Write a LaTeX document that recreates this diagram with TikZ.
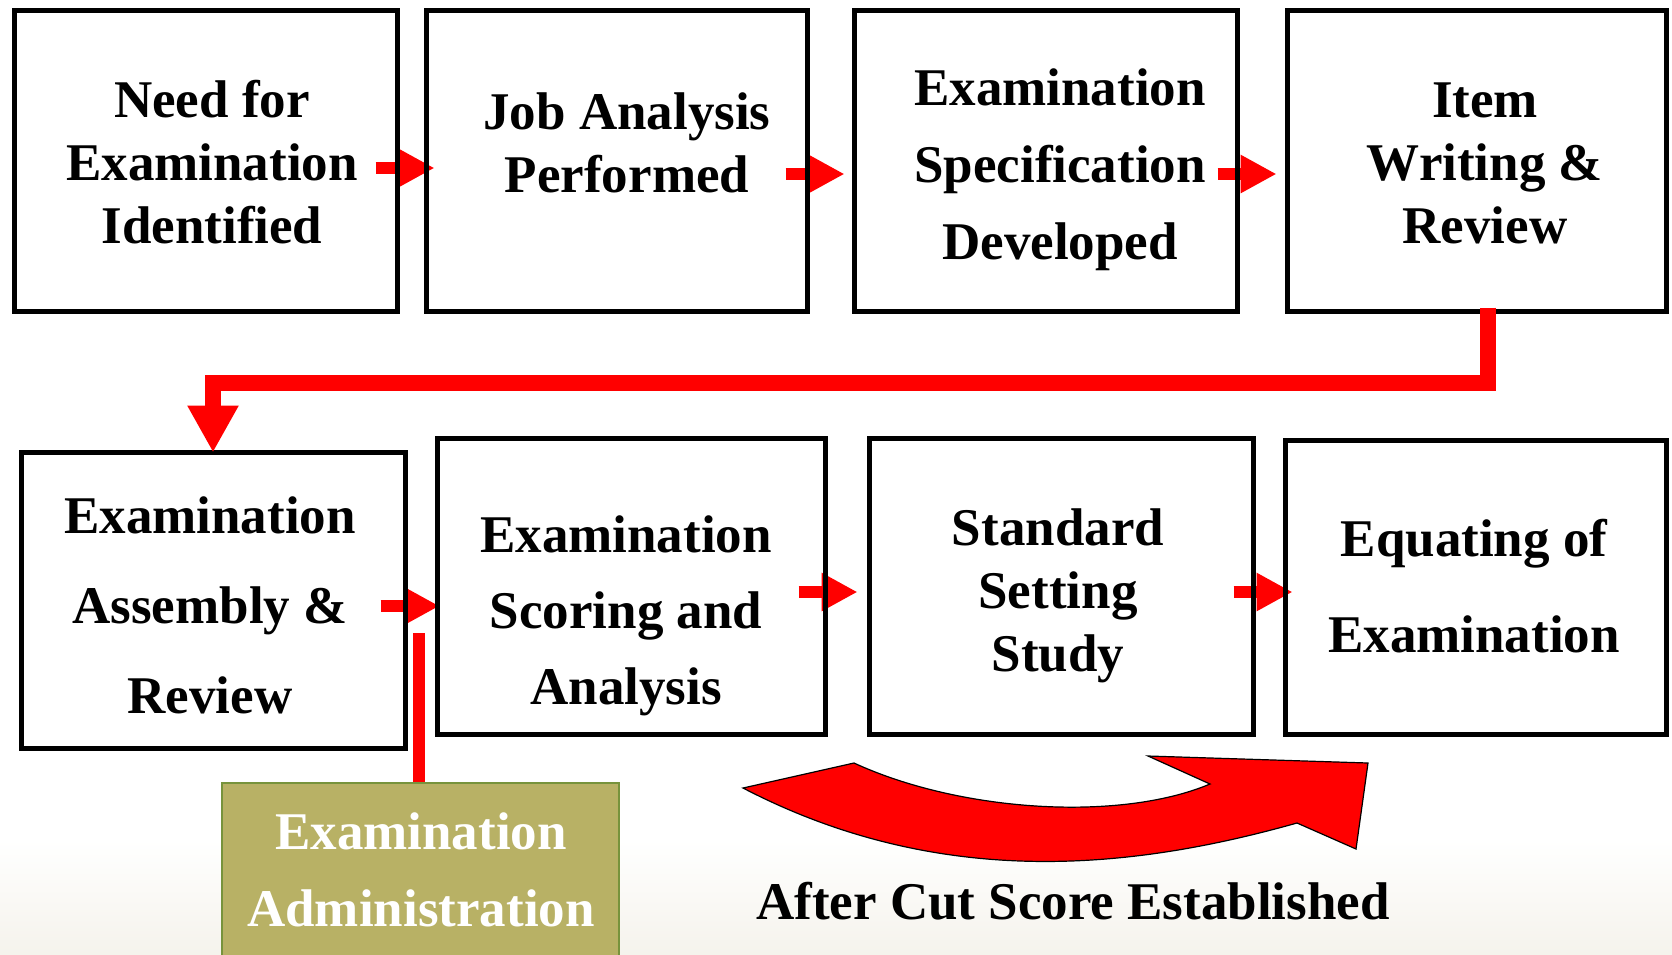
\documentclass[tikz,border=0pt]{standalone}
\usepackage{fontspec}
\setmainfont{Liberation Serif}
\usepackage{tikz}
\usetikzlibrary{arrows.meta, backgrounds}
\definecolor{admfill}{RGB}{184,177,101}
\definecolor{admdraw}{RGB}{119,147,60}
\definecolor{bgbottom}{RGB}{245,243,236}
\tikzset{>={Triangle[length=36pt,width=36pt]}}
\tikzset{
  stepbox/.style={draw, line width=5pt, inner sep=0pt},
  steptext/.style={align=center, inner sep=0pt, font=\fontsize{53}{63}\selectfont\bfseries},
  redarrow/.style={->, red, line width=12pt},
  bigflow/.style={-{Triangle[length=47pt,width=48pt]}, red, line width=16pt},
}

\begin{document}
\begin{tikzpicture}[x=1pt, y=-1pt]
        \useasboundingbox (0,0) rectangle (1672,954);
        \clip (0,0) rectangle (1672,954);
        \shade[top color=white, bottom color=bgbottom] (0,840) rectangle (1672,954);

        \node[stepbox, minimum width=383pt, minimum height=301pt] (b1) at (205.5,160.5) {};
        \node[stepbox, minimum width=381pt, minimum height=301pt] (b2) at (616.5,160.5) {};
        \node[stepbox, minimum width=383pt, minimum height=301pt] (b3) at (1045.5,160.5) {};
        \node[stepbox, minimum width=379pt, minimum height=301pt] (b4) at (1476.5,160.5) {};
        \node[stepbox, minimum width=384pt, minimum height=296pt] (b5) at (213,600) {};
        \node[stepbox, minimum width=388pt, minimum height=296pt] (b6) at (631,586) {};
        \node[stepbox, minimum width=384pt, minimum height=296pt] (b7) at (1061,586) {};
        \node[stepbox, minimum width=381pt, minimum height=294pt] (b8) at (1475.5,587) {};

        \begin{pgfonlayer}{background}
        \draw [redarrow] ([xshift=-24pt,yshift=-7.5pt]b1.east) -- ([xshift=11pt,yshift=-7.5pt]b2.west);
        \draw [redarrow] ([xshift=-24pt,yshift=-13.5pt]b2.east) -- ([xshift=-7pt,yshift=-13.5pt]b3.west);
        \draw [redarrow] ([xshift=-22pt,yshift=-13.5pt]b3.east) -- ([xshift=-8pt,yshift=-13.5pt]b4.west);
        \draw [redarrow] ([xshift=-27pt,yshift=-6pt]b5.east) -- ([xshift=5pt,yshift=-20pt]b6.west);
        \draw [redarrow] ([xshift=-29pt,yshift=-6pt]b6.east) -- ([xshift=-9pt,yshift=-6pt]b7.west);
        \draw [redarrow] ([xshift=-22pt,yshift=-6pt]b7.east) -- ([xshift=10pt,yshift=-5pt]b8.west);
        \end{pgfonlayer}

        \draw [bigflow] ([xshift=11.5pt,yshift=6pt]b4.south) -- ++(0,75) -| ([yshift=-3pt]b5.north);

        \coordinate (admend) at (419,633);
        \draw [red, line width=12pt] (admend) -- (admend |- 0,790);
        \node[draw=admdraw, fill=admfill, line width=2.5pt, minimum width=397pt, minimum height=200pt, inner sep=0pt] (adm) at (420.5,883) {};

        \filldraw [fill=red, draw=black, line width=1.2pt] (854,763) .. controls (960,812) and (1120,822) .. (1210,784)
            -- (1148,756) -- (1368,763) -- (1356,849) -- (1297,823)
            .. controls (1137,868) and (943,892) .. (743,788) -- cycle;

        \node[steptext] (t1) at (212,162) {Need for\\Examination\\Identified};
        \node[steptext] (t2) at (627,143) {Job Analysis\\Performed};
        \node[steptext] (t3) at (1060,170) {Examination\\[14pt]Specification\\[14pt]Developed};
        \node[steptext] (t4) at (1485,163) {Item\\Writing \&\\Review};
        \node[steptext] (t5) at (210,605) {Examination\\[27pt]Assembly \&\\[27pt]Review};
        \node[steptext] (t6) at (626,616) {Examination\\[13pt]Scoring and\\[13pt]Analysis};
        \node[steptext] (t7) at (1058,596) {Standard\\Setting\\Study};
        \node[steptext] (t8) at (1474,586) {Equating of\\[33pt]Examination};
        \node[steptext, text=white] (t9) at (421,870) {Examination\\[14pt]Administration};
        \node[steptext] (cut) at (1073,901) {After Cut Score Established};
\end{tikzpicture}
\end{document}
